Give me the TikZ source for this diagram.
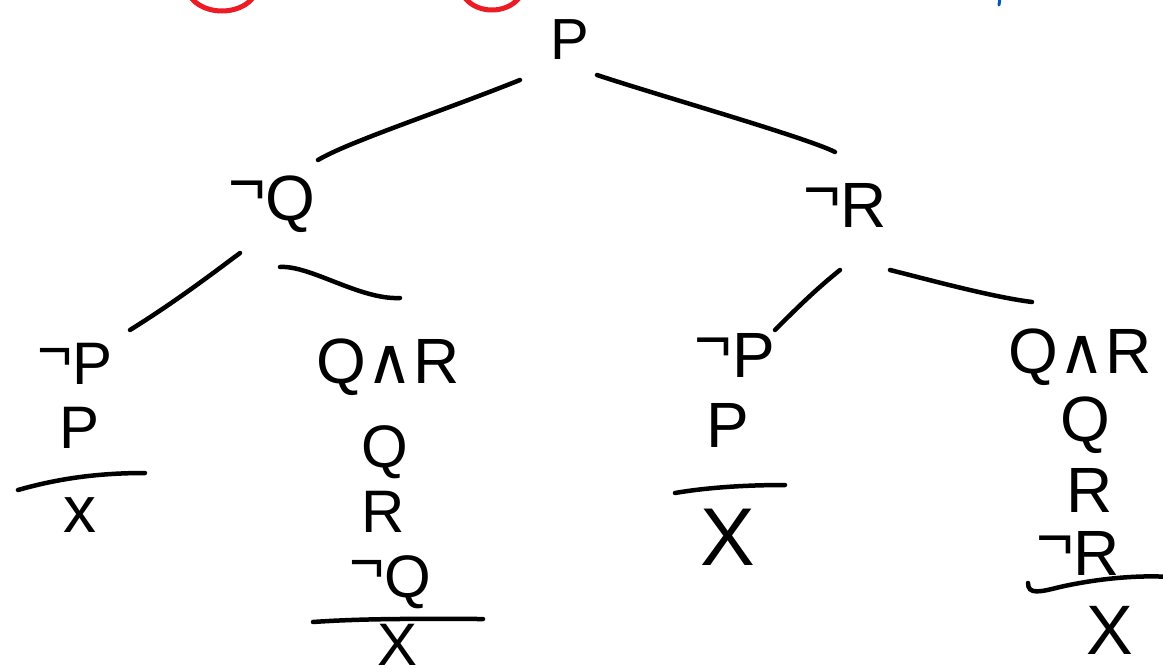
\documentclass[tikz,border=0pt]{standalone}
\usepackage{fontspec}
\setmainfont{Liberation Sans}
\newfontfamily\symfont{DejaVu Sans}
\newcommand{\andsym}{{\symfont ∧}}
\newcommand{\negsym}{\raisebox{0.24em}{¬}}
\tikzset{
  f/.style={font=\fontsize{64}{64}\selectfont, inner sep=0pt},
  fs/.style={font=\fontsize{60}{60}\selectfont, inner sep=0pt},
  fbig/.style={font=\fontsize{82}{82}\selectfont, inner sep=0pt},
  edge/.style={line width=4.5pt, line cap=round, line join=round, black},
  closebar/.style={line width=4.5pt, line cap=round, black},
  redmark/.style={line width=5pt, draw={rgb,255:red,237;green,28;blue,36}},
  bluemark/.style={line width=3pt, line cap=round, draw={rgb,255:red,0;green,90;blue,170}}
}
\begin{document}
\begin{tikzpicture}[x=1pt,y=-1pt]
\useasboundingbox (0,0) rectangle (1163,669);
% stray marks at top
\draw[redmark] (222,-16) ellipse (36 and 27);
\draw[redmark] (492,-16) ellipse (32 and 26);
\draw[bluemark] (1000,-2) -- (999,5);
% nodes
\node[f,font=\fontsize{58}{58}\selectfont] (p) at (570,40) {P};
\node[f] (nq) at (272,204) {\negsym Q};
\node[f] (nr) at (845,205) {\negsym R};
\node[fs] (a1) at (75,364) {\negsym P};
\node[fs] (a2) at (80,428) {P};
\node[f,font=\fontsize{66}{66}\selectfont] (a3) at (80,515) {x};
\node[f] (b1) at (388,367) {Q\andsym R};
\node[fs] (b2) at (385,452) {Q};
\node[fs] (b3) at (383,512) {R};
\node[fs] (b4) at (390,582) {\negsym Q};
\node[fs] (b5) at (398,645) {X};
\node[f] (c1) at (735,355) {\negsym P};
\node[f] (c2) at (728,425) {P};
\node[fbig] (c3) at (728,537) {X};
\node[f] (d1) at (1080,357) {Q\andsym R};
\node[f] (d2) at (1085,425) {Q};
\node[f] (d3) at (1090,490) {R};
\node[f] (d4) at (1078,553) {\negsym R};
\node[f,font=\fontsize{70}{70}\selectfont] (d5) at (1110,630) {X};
% connectors
\draw[edge] ([shift={(-50,40)}]p.center) .. controls +(-80,32) and +(30,-18) .. ([shift={(46,-44)}]nq.center);
\draw[edge] ([shift={(27,35)}]p.center) .. controls +(60,20) and +(-30,-15) .. ([shift={(-10,-53)}]nr.center);
\draw[edge] ([shift={(-32,49)}]nq.center) .. controls +(-40,30) and +(40,-25) .. ([shift={(55,-34)}]a1.center);
\draw[edge] ([shift={(8,63)}]nq.center) .. controls +(30,-2) and +(-40,2) .. ([shift={(12,-69)}]b1.center);
\draw[edge] ([shift={(-5,65)}]nr.center) .. controls +(-25,20) and +(20,-20) .. ([shift={(40,-25)}]c1.center);
\draw[edge] ([shift={(45,65)}]nr.center) .. controls +(40,10) and +(-40,-5) .. ([shift={(-48,-55)}]d1.center);
% closing bars
\draw[closebar] (18,490) .. controls (60,478) and (100,473) .. (145,473);
\draw[closebar] (313,622) .. controls (370,618) and (430,619) .. (483,619);
\draw[closebar] (675,493) .. controls (710,487) and (750,485) .. (785,485);
\draw[closebar] (1028,583) .. controls (1028,595) and (1040,592) .. (1060,587) .. controls (1100,578) and (1140,575) .. (1170,577);
\end{tikzpicture}
\end{document}
